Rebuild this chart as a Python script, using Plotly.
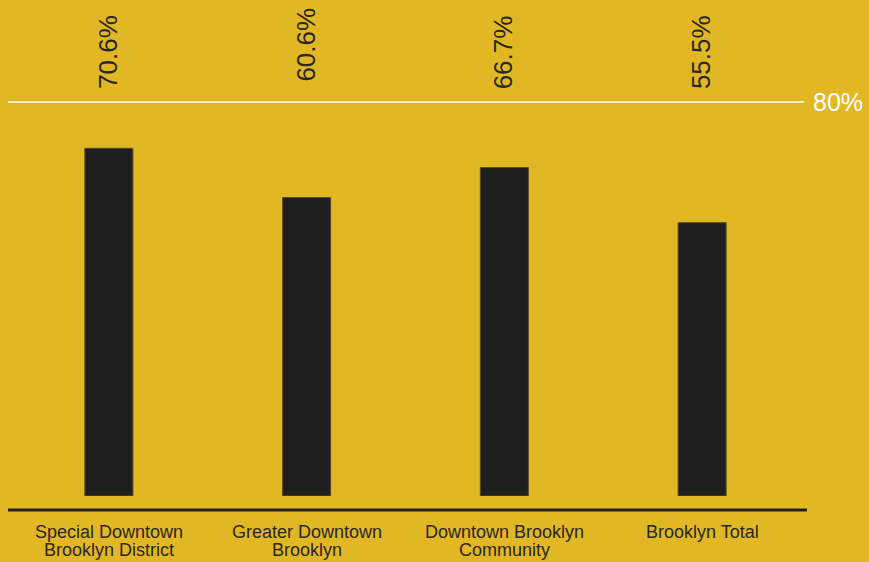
import plotly.graph_objects as go

categories = ["Special Downtown<br>Brooklyn District", "Greater Downtown<br>Brooklyn",
              "Downtown Brooklyn<br>Community", "Brooklyn Total"]
values = [70.6, 60.6, 66.7, 55.5]
value_labels = ["70.6%", "60.6%", "66.7%", "55.5%"]
grid_value = 80
grid_label = "80%"

BG = "#E1B823"
BAR = "#1F1E1F"
TXT = "#2A2620"
FONT = "Liberation Sans, Arial, sans-serif"

# small per-label vertical nudges (pixels) to mirror the reference's placement
label_yshift = {1: 7}

fig = go.Figure()
fig.add_trace(go.Bar(
    x=categories, y=values,
    marker=dict(color=BAR, line=dict(color="#5a4c26", width=1)),
    hoverinfo="skip",
))

annotations = []
for k, (c, lab) in enumerate(zip(categories, value_labels)):
    annotations.append(dict(
        x=c, xref="x", y=1.127, yref="paper", text=lab, showarrow=False,
        textangle=-90, xanchor="center", yanchor="middle", xshift=-1,
        yshift=label_yshift.get(k, 0),
        font=dict(family=FONT, size=26, color=TXT),
    ))
    lines = c.split("<br>")
    for i, line in enumerate(lines):
        annotations.append(dict(
            x=c, xref="x", y=-0.0914 - i * 0.0457, yref="paper", text=line,
            showarrow=False, xanchor="center", yanchor="middle",
            font=dict(family=FONT, size=18, color=TXT),
        ))

annotations.append(dict(
    x=1.013, xref="paper", y=grid_value, yref="y", text=grid_label,
    showarrow=False, xanchor="left", yanchor="middle",
    font=dict(family=FONT, size=25, color="white"),
))

shapes = [
    dict(type="line", xref="paper", yref="paper", x0=-0.0025, x1=1.004,
         y0=1, y1=1, line=dict(color="white", width=1.5)),
    dict(type="line", xref="paper", yref="paper", x0=-0.0025, x1=1.0075,
         y0=-0.0355, y1=-0.0355, line=dict(color=BAR, width=3)),
]

fig.update_layout(
    width=869, height=562,
    margin=dict(l=10, r=68, t=102, b=66),
    paper_bgcolor=BG, plot_bgcolor=BG,
    bargap=0.757,
    showlegend=False,
    xaxis=dict(showticklabels=False, showgrid=False, zeroline=False, showline=False),
    yaxis=dict(range=[0, grid_value], showticklabels=False, showgrid=False,
               zeroline=False, showline=False),
    annotations=annotations,
    shapes=shapes,
)

fig.write_html(
    "out.html",
    config={"displayModeBar": False},
    post_script="document.body.style.margin='0';document.body.style.background='%s';"
                "document.body.style.overflow='hidden';" % BG,
)
